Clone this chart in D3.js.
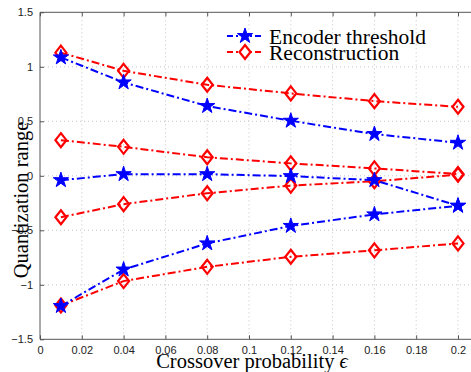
<!DOCTYPE html>
<html><head><meta charset="utf-8">
<script src="https://cdn.jsdelivr.net/npm/d3@7"></script>
<style>body{margin:0;background:#fff;} svg{display:block;}</style>
</head><body>
<svg id="chart" width="471" height="372"></svg>
<script>
const xValues = [0.01, 0.04, 0.08, 0.12, 0.16, 0.2];
const encoderTop = [1.086, 0.857, 0.64, 0.505, 0.383, 0.303];
const encoderMid = [-0.04, 0.015, 0.015, -0.003, -0.04, -0.275];
const encoderBot = [-1.195, -0.86, -0.62, -0.46, -0.354, -0.275];
const reconA = [1.13, 0.963, 0.835, 0.756, 0.685, 0.633];
const reconB = [0.327, 0.266, 0.17, 0.114, 0.068, 0.016];
const reconC = [-0.38, -0.26, -0.16, -0.09, -0.05, 0.01];
const reconD = [-1.19, -0.966, -0.835, -0.743, -0.684, -0.62];
const xTicks = [0, 0.02, 0.04, 0.06, 0.08, 0.1, 0.12, 0.14, 0.16, 0.18, 0.2];
const xTickLabels = ["0","0.02","0.04","0.06","0.08","0.1","0.12","0.14","0.16","0.18","0.2"];
const yTicks = [-1.5, -1, -0.5, 0, 0.5, 1, 1.5];
const yTickLabels = ["\u22121.5","\u22121","\u22120.5","0","0.5","1","1.5"];
const legendLabels = ["Encoder threshold", "Reconstruction"];

const svg = d3.select("#chart");
const x = d3.scaleLinear().domain([0, 0.2]).range([40, 458]);
const y = d3.scaleLinear().domain([-1.5, 1.5]).range([339.3, 12.3]);
const right = 480;

// grid
const g = svg.append("g");
g.selectAll(".vg").data(xTicks.slice(1)).enter().append("line")
  .attr("x1", d => x(d)).attr("x2", d => x(d)).attr("y1", y(1.5)).attr("y2", y(-1.5))
  .attr("stroke", "#b8b8b8").attr("stroke-width", 0.8).attr("stroke-dasharray", "1,3");
g.selectAll(".hg").data(yTicks.slice(1, -1)).enter().append("line")
  .attr("x1", x(0)).attr("x2", right).attr("y1", d => y(d)).attr("y2", d => y(d))
  .attr("stroke", "#b8b8b8").attr("stroke-width", 0.8).attr("stroke-dasharray", "1,3");

// axes
const axColor = "#555";
const xAxis = d3.axisBottom(x).tickValues(xTicks).tickFormat((d, i) => xTickLabels[i]).tickSizeInner(-4).tickSizeOuter(0).tickPadding(7);
const xa = svg.append("g").attr("transform", `translate(0,${y(-1.5)})`).call(xAxis);
xa.select(".domain").remove();
const xAxisTop = d3.axisTop(x).tickValues(xTicks).tickFormat("").tickSizeInner(-4).tickSizeOuter(0);
const xt = svg.append("g").attr("transform", `translate(0,${y(1.5)})`).call(xAxisTop);
xt.select(".domain").remove();
const yAxis = d3.axisLeft(y).tickValues(yTicks).tickFormat((d, i) => yTickLabels[i]).tickSizeInner(-4).tickSizeOuter(0).tickPadding(7);
const ya = svg.append("g").attr("transform", `translate(${x(0)},0)`).call(yAxis);
ya.select(".domain").remove();
svg.selectAll(".tick line").attr("stroke", axColor);
svg.selectAll(".tick text").attr("fill", "#222").style("font-family", "Liberation Sans, Arial, sans-serif").style("font-size", "11px");
// frame
svg.append("path").attr("d", `M${right},${y(1.5)}H${x(0)}V${y(-1.5)}H${right}`)
  .attr("fill", "none").attr("stroke", axColor).attr("stroke-width", 1);

const line = d3.line().x((d, i) => x(xValues[i])).y(d => y(d));
const dash = "8,3,2,3";
const starSym = d3.symbol().type(d3.symbolStar).size(72);
const diaPath = "M0,-7L5.5,0L0,7L-5.5,0Z";

function drawSeries(vals, color, marker) {
  svg.append("path").datum(vals).attr("d", line).attr("fill", "none")
    .attr("stroke", color).attr("stroke-width", 2).attr("stroke-dasharray", dash);
  const m = svg.append("g");
  vals.forEach((v, i) => {
    if (marker === "star") {
      m.append("path").attr("d", starSym()).attr("transform", `translate(${x(xValues[i])},${y(v)})`)
        .attr("fill", color).attr("stroke", color).attr("stroke-width", 1);
    } else {
      m.append("path").attr("d", diaPath).attr("transform", `translate(${x(xValues[i])},${y(v)})`)
        .attr("fill", "none").attr("stroke", color).attr("stroke-width", 2.2);
    }
  });
}
const blue = "#0000ff", red = "#ff0000";
[reconA, reconB, reconC, reconD].forEach(s => drawSeries(s, red, "diamond"));
[encoderTop, encoderMid, encoderBot].forEach(s => drawSeries(s, blue, "star"));

// legend
const leg = svg.append("g");
const legItems = [{c: blue, m: "star", yy: 36}, {c: red, m: "diamond", yy: 52}];
legItems.forEach((it, i) => {
  leg.append("line").attr("x1", 227).attr("x2", 264).attr("y1", it.yy).attr("y2", it.yy)
    .attr("stroke", it.c).attr("stroke-width", 2).attr("stroke-dasharray", "6,3,2,3");
  if (it.m === "star") leg.append("path").attr("d", starSym()).attr("transform", `translate(245,${it.yy})`).attr("fill", it.c).attr("stroke", it.c);
  else leg.append("path").attr("d", diaPath).attr("transform", `translate(245,${it.yy})`).attr("fill", "#fff").attr("stroke", it.c).attr("stroke-width", 2.2);
  leg.append("text").attr("x", 269).attr("y", it.yy + 8).text(legendLabels[i])
    .style("font-family", "Liberation Serif, Times New Roman, serif").style("font-size", "21.5px").attr("fill", "#000");
});

// axis labels
const xl = svg.append("text").attr("x", 252).attr("y", 368).attr("text-anchor", "middle")
  .style("font-family", "Liberation Serif, Times New Roman, serif").style("font-size", "20.5px").attr("fill", "#000");
xl.append("tspan").text("Crossover probability ");
xl.append("tspan").style("font-style", "italic").text("\u03f5");
svg.append("text").attr("transform", "translate(28,200) rotate(-90)").attr("text-anchor", "middle")
  .style("font-family", "Liberation Serif, Times New Roman, serif").style("font-size", "20.5px").attr("fill", "#000")
  .text("Quantization range");
</script>
</body></html>
